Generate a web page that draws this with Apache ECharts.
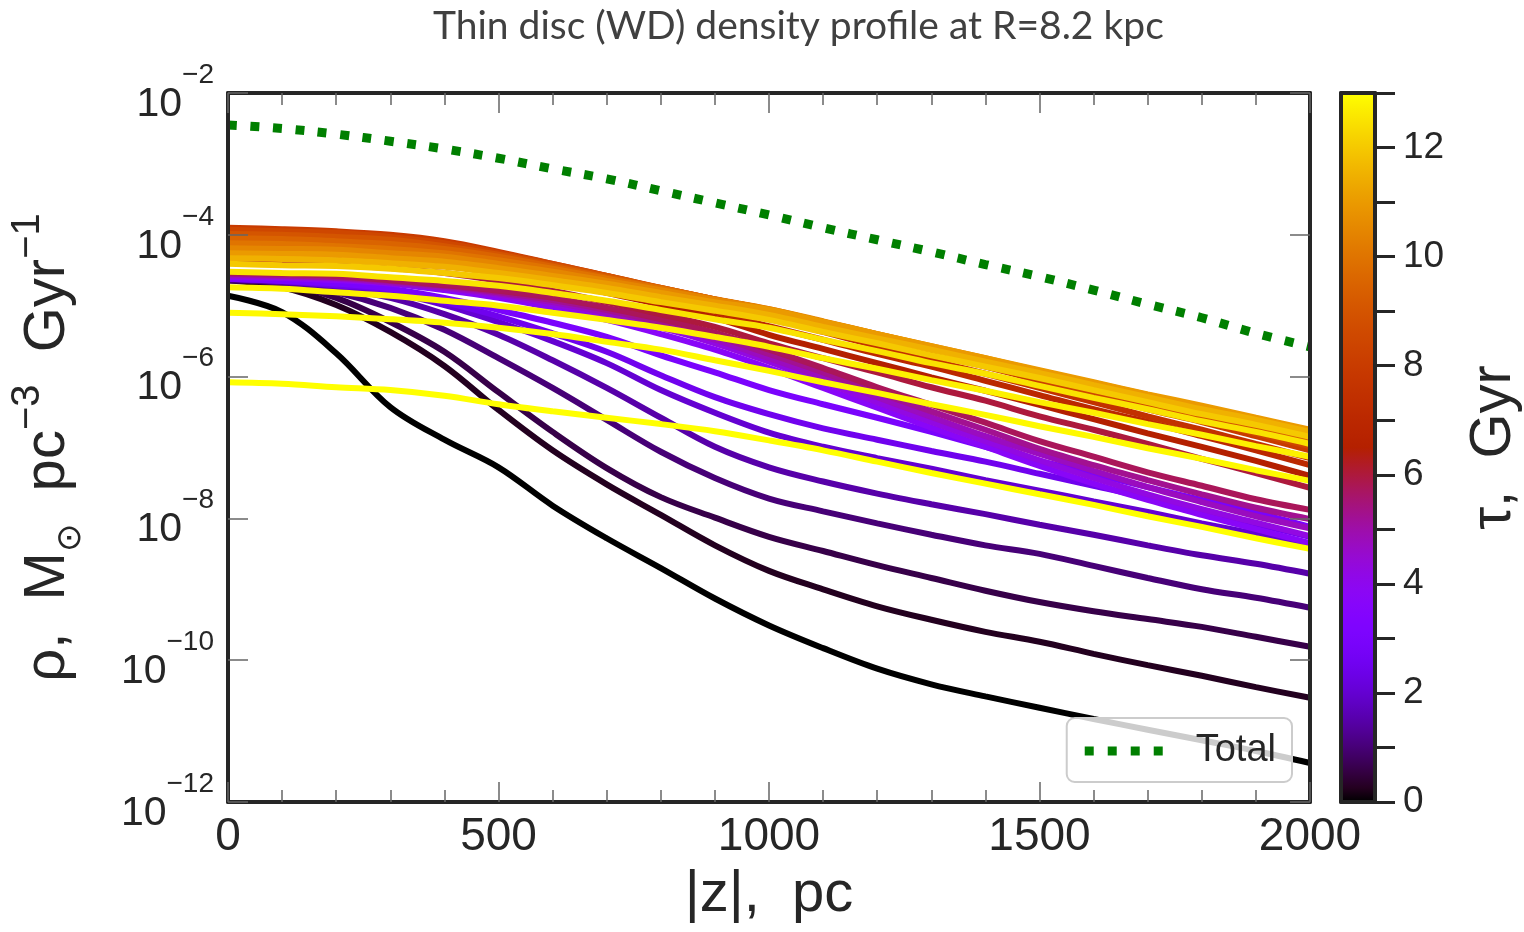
<!DOCTYPE html>
<html><head><meta charset="utf-8">
<script src="https://cdn.jsdelivr.net/npm/echarts@6/dist/echarts.min.js"></script>
<style>html,body{margin:0;padding:0;background:#fff;}#c{width:1524px;height:932px;}</style>
</head><body><div id="c"></div>
<script>
// |z| sample positions (pc)
const Z_PC = [0,100,200,300,400,500,600,700,800,900,1000,1100,1200,1300,1400,1500,1600,1700,1800,1900,2000];
// log10 of density (Msun pc^-3 Gyr^-1), one array per age line
const TOTAL      = [-2.45,-2.50,-2.58,-2.68,-2.79,-2.92,-3.07,-3.21,-3.38,-3.55,-3.72,-3.90,-4.07,-4.24,-4.42,-4.59,-4.78,-4.98,-5.17,-5.39,-5.58];
const RHO_T00_00 = [-4.86,-5.09,-5.67,-6.43,-6.89,-7.28,-7.82,-8.28,-8.70,-9.13,-9.51,-9.83,-10.12,-10.34,-10.51,-10.67,-10.83,-10.98,-11.13,-11.28,-11.45];
const RHO_T00_25 = [-4.64,-4.74,-4.99,-5.37,-5.85,-6.47,-7.04,-7.52,-7.95,-8.38,-8.74,-9.00,-9.24,-9.43,-9.60,-9.74,-9.91,-10.07,-10.22,-10.38,-10.53];
const RHO_T00_60 = [-4.64,-4.69,-4.89,-5.23,-5.65,-6.22,-6.78,-7.29,-7.70,-7.99,-8.26,-8.46,-8.66,-8.84,-9.02,-9.18,-9.31,-9.42,-9.53,-9.67,-9.81];
const RHO_T01_00 = [-4.64,-4.68,-4.81,-5.03,-5.34,-5.74,-6.16,-6.61,-7.06,-7.43,-7.72,-7.90,-8.07,-8.23,-8.38,-8.50,-8.67,-8.84,-9.00,-9.12,-9.26];
const RHO_T01_50 = [-4.62,-4.67,-4.75,-4.89,-5.12,-5.41,-5.77,-6.16,-6.58,-6.99,-7.28,-7.48,-7.65,-7.80,-7.94,-8.09,-8.23,-8.38,-8.52,-8.64,-8.78];
const RHO_T02_00 = [-4.62,-4.65,-4.72,-4.81,-4.99,-5.23,-5.50,-5.81,-6.19,-6.51,-6.79,-6.99,-7.15,-7.30,-7.46,-7.61,-7.76,-7.91,-8.07,-8.22,-8.38];
const RHO_T02_50 = [-4.62,-4.65,-4.71,-4.78,-4.95,-5.15,-5.39,-5.65,-5.98,-6.29,-6.53,-6.73,-6.89,-7.05,-7.20,-7.37,-7.54,-7.71,-7.90,-8.08,-8.26];
const RHO_T03_00 = [-4.62,-4.65,-4.69,-4.76,-4.89,-5.06,-5.24,-5.44,-5.70,-5.94,-6.19,-6.39,-6.58,-6.78,-6.99,-7.19,-7.37,-7.56,-7.74,-7.92,-8.12];
const RHO_T03_75 = [-4.60,-4.61,-4.64,-4.69,-4.78,-4.89,-5.03,-5.20,-5.40,-5.62,-5.88,-6.16,-6.44,-6.72,-6.99,-7.26,-7.51,-7.74,-7.95,-8.15,-8.35];
const RHO_T04_25 = [-4.58,-4.60,-4.62,-4.68,-4.75,-4.85,-4.98,-5.13,-5.31,-5.53,-5.79,-6.08,-6.36,-6.64,-6.91,-7.18,-7.43,-7.66,-7.87,-8.06,-8.25];
const RHO_T04_75 = [-4.57,-4.58,-4.61,-4.67,-4.74,-4.83,-4.95,-5.10,-5.27,-5.48,-5.74,-6.01,-6.29,-6.57,-6.84,-7.09,-7.33,-7.56,-7.77,-7.97,-8.14];
const RHO_T05_25 = [-4.55,-4.57,-4.60,-4.65,-4.72,-4.81,-4.92,-5.06,-5.23,-5.43,-5.68,-5.94,-6.22,-6.49,-6.75,-7.02,-7.25,-7.46,-7.66,-7.85,-8.01];
const RHO_T05_75 = [-4.54,-4.55,-4.58,-4.64,-4.71,-4.79,-4.89,-5.03,-5.19,-5.38,-5.62,-5.88,-6.15,-6.40,-6.65,-6.91,-7.13,-7.35,-7.54,-7.73,-7.88];
const RHO_T06_00 = [-4.38,-4.40,-4.43,-4.47,-4.54,-4.65,-4.79,-4.95,-5.12,-5.30,-5.53,-5.74,-5.94,-6.15,-6.34,-6.56,-6.75,-6.95,-7.16,-7.36,-7.57];
const RHO_T06_50 = [-4.24,-4.26,-4.28,-4.33,-4.41,-4.52,-4.67,-4.82,-4.99,-5.17,-5.41,-5.61,-5.81,-6.01,-6.20,-6.40,-6.60,-6.80,-6.99,-7.19,-7.40];
const RHO_T07_00 = [-4.12,-4.13,-4.16,-4.21,-4.30,-4.41,-4.57,-4.74,-4.91,-5.09,-5.29,-5.48,-5.68,-5.86,-6.06,-6.26,-6.46,-6.64,-6.84,-7.04,-7.25];
const RHO_T07_50 = [-3.97,-3.99,-4.02,-4.07,-4.17,-4.33,-4.50,-4.67,-4.83,-5.00,-5.17,-5.37,-5.57,-5.77,-5.96,-6.16,-6.36,-6.56,-6.75,-6.95,-7.15];
const RHO_T08_00 = [-3.90,-3.92,-3.95,-4.00,-4.09,-4.24,-4.41,-4.58,-4.76,-4.92,-5.09,-5.29,-5.48,-5.67,-5.86,-6.06,-6.26,-6.46,-6.64,-6.84,-7.04];
const RHO_T08_50 = [-3.93,-3.95,-3.97,-4.03,-4.12,-4.26,-4.41,-4.58,-4.75,-4.91,-5.07,-5.27,-5.46,-5.65,-5.84,-6.03,-6.22,-6.41,-6.60,-6.80,-6.98];
const RHO_T09_00 = [-3.99,-4.00,-4.03,-4.07,-4.16,-4.28,-4.43,-4.58,-4.75,-4.91,-5.06,-5.24,-5.43,-5.62,-5.81,-5.99,-6.17,-6.36,-6.56,-6.74,-6.92];
const RHO_T09_50 = [-4.05,-4.06,-4.09,-4.13,-4.20,-4.31,-4.45,-4.60,-4.75,-4.91,-5.06,-5.24,-5.43,-5.60,-5.78,-5.96,-6.15,-6.33,-6.50,-6.68,-6.87];
const RHO_T10_00 = [-4.12,-4.13,-4.16,-4.20,-4.26,-4.36,-4.48,-4.62,-4.76,-4.91,-5.05,-5.23,-5.40,-5.58,-5.75,-5.94,-6.12,-6.29,-6.47,-6.64,-6.82];
const RHO_T10_50 = [-4.19,-4.20,-4.21,-4.26,-4.31,-4.41,-4.52,-4.65,-4.78,-4.92,-5.05,-5.22,-5.40,-5.57,-5.74,-5.92,-6.09,-6.26,-6.43,-6.61,-6.78];
const RHO_T11_00 = [-4.26,-4.27,-4.28,-4.33,-4.38,-4.47,-4.58,-4.69,-4.82,-4.95,-5.06,-5.23,-5.40,-5.57,-5.74,-5.91,-6.08,-6.25,-6.41,-6.58,-6.75];
const RHO_T11_50 = [-4.33,-4.34,-4.36,-4.40,-4.45,-4.54,-4.64,-4.75,-4.88,-5.00,-5.13,-5.30,-5.46,-5.62,-5.79,-5.95,-6.12,-6.29,-6.46,-6.61,-6.78];
const RHO_T12_00 = [-4.41,-4.43,-4.44,-4.48,-4.54,-4.61,-4.71,-4.82,-4.95,-5.07,-5.20,-5.37,-5.53,-5.70,-5.86,-6.02,-6.19,-6.36,-6.53,-6.68,-6.85];
const RHO_T12_50 = [-4.52,-4.54,-4.55,-4.60,-4.65,-4.72,-4.82,-4.93,-5.06,-5.19,-5.31,-5.48,-5.64,-5.81,-5.96,-6.13,-6.30,-6.46,-6.63,-6.78,-6.95];
const RHO_T12_75 = [-4.74,-4.76,-4.81,-4.86,-4.93,-5.00,-5.10,-5.20,-5.31,-5.44,-5.58,-5.74,-5.89,-6.05,-6.20,-6.36,-6.51,-6.67,-6.82,-6.98,-7.13];
const RHO_T12_90 = [-5.10,-5.12,-5.15,-5.19,-5.24,-5.31,-5.40,-5.51,-5.62,-5.77,-5.92,-6.08,-6.23,-6.39,-6.54,-6.70,-6.85,-7.01,-7.16,-7.32,-7.47];
const RHO_T13_00 = [-6.08,-6.10,-6.15,-6.19,-6.27,-6.39,-6.49,-6.58,-6.67,-6.77,-6.90,-7.04,-7.20,-7.36,-7.51,-7.66,-7.81,-7.97,-8.12,-8.28,-8.43];

const AGE_GYR = [0,0.25,0.6,1,1.5,2,2.5,3,3.75,4.25,4.75,5.25,5.75,6,6.5,7,7.5,8,8.5,9,9.5,10,10.5,11,11.5,12,12.5,12.75,12.9,13];
const AGE_LINES = [RHO_T00_00,RHO_T00_25,RHO_T00_60,RHO_T01_00,RHO_T01_50,RHO_T02_00,RHO_T02_50,RHO_T03_00,RHO_T03_75,RHO_T04_25,RHO_T04_75,RHO_T05_25,RHO_T05_75,RHO_T06_00,RHO_T06_50,RHO_T07_00,RHO_T07_50,RHO_T08_00,RHO_T08_50,RHO_T09_00,RHO_T09_50,RHO_T10_00,RHO_T10_50,RHO_T11_00,RHO_T11_50,RHO_T12_00,RHO_T12_50,RHO_T12_75,RHO_T12_90,RHO_T13_00];
const TAU_MAX = 13;

const FONT = "'Liberation Sans', Arial, Helvetica, sans-serif";
const INK = '#262626';
const TICK = '#666666';

function gnuplot(t) {
  t = Math.min(1, Math.max(0, t));
  const r = Math.sqrt(t), g = t * t * t, b = Math.max(0, Math.sin(2 * Math.PI * t));
  return 'rgb(' + Math.round(r * 255) + ',' + Math.round(g * 255) + ',' + Math.round(b * 255) + ')';
}
function toPts(arr) { return Z_PC.map((z, i) => [z, Math.pow(10, arr[i])]); }

const chart = echarts.init(document.getElementById('c'), null, {renderer: 'canvas'});

const series = AGE_LINES.map((arr, k) => ({
  type: 'line', name: 'tau ' + AGE_GYR[k], data: toPts(arr),
  xAxisIndex: 0, yAxisIndex: 0, symbol: 'none', showSymbol: false, smooth: 0.35,
  lineStyle: {color: gnuplot(AGE_GYR[k] / TAU_MAX), width: 6}, silent: true, z: 2
}));
series.push({
  type: 'line', name: 'Total', data: toPts(TOTAL), xAxisIndex: 0, yAxisIndex: 0,
  symbol: 'none', showSymbol: false, smooth: 0.35, z: 3,
  itemStyle: {color: '#007f00'},
  lineStyle: {color: '#007f00', width: 9, type: [9, 13.5], cap: 'butt'}
});
const stops = [];
for (let i = 0; i <= 50; i++) stops.push({offset: i / 50, color: gnuplot(i / 50)});
series.push({
  type: 'bar', xAxisIndex: 2, yAxisIndex: 2, data: [TAU_MAX], barWidth: '100%', silent: true, z: 1,
  itemStyle: {color: new echarts.graphic.LinearGradient(0, 1, 0, 0, stops)}
});

const frameLine = {show: true, onZero: false, lineStyle: {color: INK, width: 4}};
const supRich = {
  sp: {fontSize: 1, lineHeight: 64, verticalAlign: 'middle'},
  b: {fontSize: 41, lineHeight: 42, verticalAlign: 'bottom', color: INK, fontFamily: FONT},
  s: {fontSize: 28, lineHeight: 28, verticalAlign: 'top', color: INK, fontFamily: FONT}
};
const nameRich = {
  sp: {fontSize: 1, lineHeight: 80, verticalAlign: 'middle'},
  t: {fontSize: 58, lineHeight: 60, verticalAlign: 'middle', color: INK, fontFamily: FONT},
  sup: {fontSize: 40, lineHeight: 42, verticalAlign: 'top', color: INK, fontFamily: FONT},
  sub: {fontSize: 34, lineHeight: 38, verticalAlign: 'bottom', color: INK, fontFamily: "'DejaVu Sans', sans-serif"}
};

const option = {
  animation: false,
  backgroundColor: '#ffffff',
  title: {text: 'Thin disc (WD) density profile at R=8.2 kpc', left: 428, top: 2,
    textStyle: {fontFamily: "Lato, 'Open Sans', sans-serif", fontSize: 39, fontWeight: 'normal', color: '#404040'}},
  grid: [
    {left: 228, right: 214, top: 93, bottom: 130},
    {left: 1341, width: 39, top: 93, bottom: 130}
  ],
  legend: {
    data: ['Total'], right: 232, top: 718, itemWidth: 78, itemHeight: 9,
    icon: 'path://M0,0h9v9h-9z M23,0h9v9h-9z M46,0h9v9h-9z M69,0h9v9h-9z',
    padding: [14, 16, 12, 18], backgroundColor: 'rgba(255,255,255,0.8)',
    borderColor: '#cccccc', borderWidth: 2, borderRadius: 8,
    textStyle: {fontSize: 38, color: INK, fontFamily: FONT, padding: [0, 0, 0, 28]}
  },
  xAxis: [
    {gridIndex: 0, type: 'value', min: 0, max: 2000, interval: 500, position: 'bottom', z: 5,
     axisLine: frameLine,
     axisTick: {inside: true, length: 20, lineStyle: {color: TICK, width: 1.5}},
     minorTick: {show: true, splitNumber: 5, length: 12, lineStyle: {color: TICK, width: 1.5}},
     splitLine: {show: false}, minorSplitLine: {show: false},
     axisLabel: {fontSize: 46, color: INK, margin: 12, fontFamily: FONT, formatter: function (v) { return String(v); }},
     name: '|z|,  pc', nameLocation: 'middle', nameGap: 64,
     nameTextStyle: {fontSize: 58, color: INK, fontFamily: FONT}},
    {gridIndex: 0, type: 'value', min: 0, max: 2000, interval: 500, position: 'top', z: 5,
     axisLine: frameLine,
     axisTick: {inside: true, length: 20, lineStyle: {color: TICK, width: 1.5}},
     minorTick: {show: true, splitNumber: 5, length: 12, lineStyle: {color: TICK, width: 1.5}},
     splitLine: {show: false}, minorSplitLine: {show: false}, axisLabel: {show: false}},
    {gridIndex: 1, type: 'category', data: [''], position: 'bottom', z: 5,
     axisLine: frameLine, axisTick: {show: false}, axisLabel: {show: false}, splitLine: {show: false}},
    {gridIndex: 1, type: 'category', data: [''], position: 'top', z: 5,
     axisLine: frameLine, axisTick: {show: false}, axisLabel: {show: false}, splitLine: {show: false}}
  ],
  yAxis: [
    {gridIndex: 0, type: 'log', logBase: 100, min: 1e-12, max: 1e-2, position: 'left', z: 5,
     axisLine: frameLine,
     axisTick: {inside: true, length: 20, lineStyle: {color: TICK, width: 1.5}},
     minorTick: {show: false}, splitLine: {show: false}, minorSplitLine: {show: false},
     axisLabel: {margin: 14, rich: supRich, formatter: function (v) {
       const e = Math.round(Math.log10(v));
       return '{sp|\u200b}{b|10}{s|' + (e < 0 ? '\u2212' : '') + Math.abs(e) + '}';
     }},
     name: '{sp|\u200b}{t|\u03c1,  M}{sub|\u2299}{t|  pc}{sup|\u22123}{t|  Gyr}{sup|\u22121}',
     nameLocation: 'middle', nameRotate: 90, nameGap: 140,
     nameTextStyle: {rich: nameRich, color: INK}},
    {gridIndex: 0, type: 'log', logBase: 100, min: 1e-12, max: 1e-2, position: 'right', z: 5,
     axisLine: frameLine,
     axisTick: {inside: true, length: 20, lineStyle: {color: TICK, width: 1.5}},
     minorTick: {show: false}, splitLine: {show: false}, axisLabel: {show: false}},
    {gridIndex: 1, type: 'value', min: 0, max: TAU_MAX, interval: 1, position: 'right', z: 5,
     axisLine: frameLine,
     axisTick: {show: true, inside: false, length: 20, lineStyle: {color: INK, width: 3}},
     splitLine: {show: false},
     axisLabel: {fontSize: 37, color: INK, margin: 28, fontFamily: FONT,
       formatter: function (v) { return (v % 2 === 0) ? String(v) : ''; }},
     name: '\u03c4,  Gyr', nameLocation: 'middle', nameRotate: 90, nameGap: 90,
     nameTextStyle: {fontSize: 58, color: INK, fontFamily: FONT}},
    {gridIndex: 1, type: 'value', min: 0, max: TAU_MAX, position: 'left', z: 5,
     axisLine: frameLine, axisTick: {show: false}, axisLabel: {show: false}, splitLine: {show: false}}
  ],
  series: series
};
chart.setOption(option);
</script>
</body></html>
